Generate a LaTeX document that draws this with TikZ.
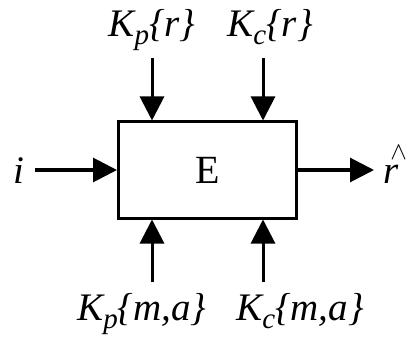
\documentclass[tikz,border=0pt]{standalone}
\usepackage{fontspec}
\setmainfont{Liberation Serif}
\usetikzlibrary{arrows.meta}
\tikzset{
  conn/.style={line width=3pt,-{Triangle[length=24pt,width=24pt]}},
  lbl/.style={inner sep=0pt,anchor=base,font=\fontsize{39}{42}\selectfont\itshape},
  blk/.style={draw,line width=3pt,minimum width=178pt,minimum height=96pt,inner sep=0pt,font=\fontsize{40}{44}\selectfont}
}
\newcommand{\sbs}[1]{\raisebox{-8pt}{\fontsize{29}{31}\selectfont #1}}
\begin{document}
\begin{tikzpicture}[x=1pt,y=-1pt]
\useasboundingbox (0,0) rectangle (409,339);
\node[blk] (E) at (207.5,170) {E};
\node[lbl] (kpr) at (152,37) {K\sbs{p}\{r\}};
\node[lbl] (kcr) at (270,37) {K\sbs{c}\{r\}};
\node[lbl] (kpma) at (142,320) {K\sbs{p}\{m,a\}};
\node[lbl] (kcma) at (300,320) {K\sbs{c}\{m,a\}};
\node[lbl] (i) at (19,183) {i};
\node[lbl] (rh) at (395,183) {r\hspace{-8pt}\raisebox{24pt}{\upshape\fontsize{28}{30}\selectfont$\wedge$}};
\coordinate (t1) at (152,58);
\coordinate (t2) at (263,58);
\coordinate (b1) at (152,282);
\coordinate (b2) at (263,282);
\coordinate (li) at (35,170);
\coordinate (ro) at (374,170);
\draw[conn] (t1) -- (t1 |- E.north);
\draw[conn] (t2) -- (t2 |- E.north);
\draw[conn] (b1) -- (b1 |- E.south);
\draw[conn] (b2) -- (b2 |- E.south);
\draw[conn] (li) -- (E.west);
\draw[conn] (E.east) -- (ro);
\end{tikzpicture}
\end{document}
